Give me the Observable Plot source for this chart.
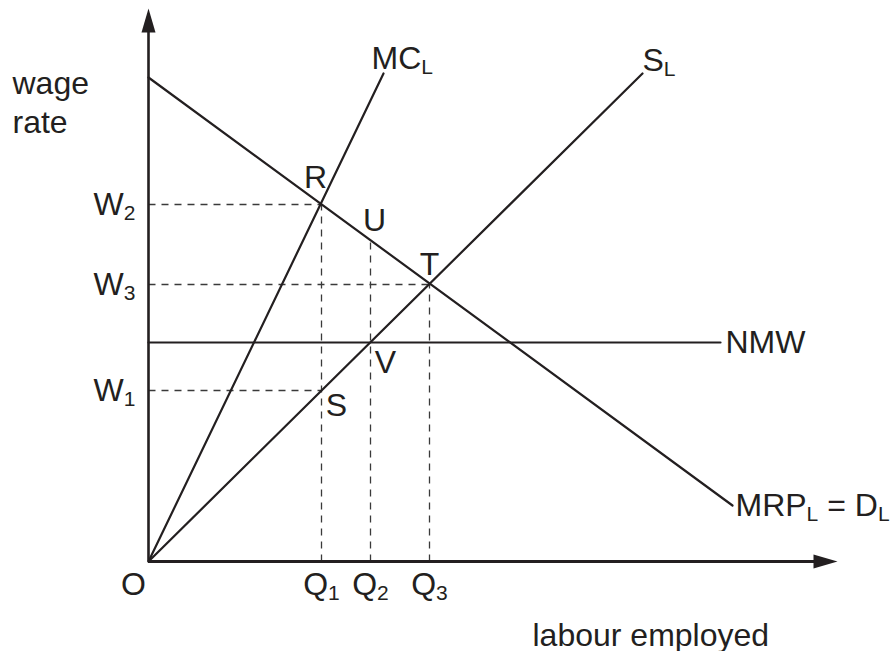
<!DOCTYPE html>
<html><head><meta charset="utf-8">
<script src="https://cdn.jsdelivr.net/npm/d3@7"></script>
<script src="https://cdn.jsdelivr.net/npm/@observablehq/plot@0.6"></script>
<style>body{margin:0;background:#fff;} svg{display:block;}</style>
</head><body><div id="chart"></div>
<script>
// ---- data (chart units: labour employed on x, wage rate on y) ----
const qLabels = ["Q_{1}", "Q_{2}", "Q_{3}"];
const qValues = [17.3, 22.2, 28.1];
const wLabels = ["W_{2}", "W_{3}", "W_{1}"];
const wValues = [35.7, 27.7, 17.1];
const nmwValue = 21.9;
const mrpLine = [[0, 48.4], [58.4, 5.6]];   // MRP_L = D_L
const mcLine = [[0, 0], [23.5, 48.8]];      // MC_L
const sLine = [[0, 0], [49.4, 48.8]];       // S_L
const nmwLine = [[0, nmwValue], [57.2, nmwValue]];
const pointNames = ["R", "U", "T", "V", "S"];
const pointQ = [17.3, 22.2, 28.1, 22.2, 17.3];
const pointW = [35.7, 32.0, 27.7, 21.9, 17.1];
const curveNames = ["MC_{L}", "S_{L}", "NMW", "MRP_{L} = D_{L}"];
const axisMax = {x: 68.9, y: 55.3};

// ---- derived tables ----
const ink = "#231f20";
const dashInk = "#3a3a3a";
const FS = 32;
const qTable = qLabels.map((label, i) => ({label, q: qValues[i]}));
const wTable = wLabels.map((label, i) => ({label, w: wValues[i]}));
const pts = pointNames.map((name, i) => ({name, q: pointQ[i], w: pointW[i]}));
const P = Object.fromEntries(pts.map(d => [d.name, d]));
const hDash = [P.R, P.T, P.S];           // horizontal dashes to the wage axis
const vDash = [P.R, P.U, P.T];           // vertical dashes to the quantity axis
const curveEnds = [mcLine[1], sLine[1], nmwLine[1], mrpLine[1]]
  .map((e, i) => ({name: curveNames[i], q: e[0], w: e[1]}));

// arrow heads built from the axis extents (24px long, 14px wide at 10px/unit)
const hl = 2.4, hw = 0.7;
const heads = [
  {id: "y", q: -hw, w: axisMax.y - hl}, {id: "y", q: 0, w: axisMax.y}, {id: "y", q: hw, w: axisMax.y - hl},
  {id: "x", q: axisMax.x - hl, w: hw}, {id: "x", q: axisMax.x, w: 0}, {id: "x", q: axisMax.x - hl, w: -hw}
];

const line = (data, opts = {}) => Plot.line(data, {x: d => d[0], y: d => d[1], stroke: ink, strokeWidth: 2.2, ...opts});
const label = (data, opts) => Plot.text(data, {fill: ink, fontSize: FS, ...opts});

const curveStyle = {
  "MC_{L}": {textAnchor: "start", lineAnchor: "bottom", dx: -12, dy: -5},
  "S_{L}": {textAnchor: "start", lineAnchor: "bottom", dx: 0, dy: -3},
  "NMW": {textAnchor: "start", lineAnchor: "middle", dx: 5, dy: 0},
  "MRP_{L} = D_{L}": {textAnchor: "start", lineAnchor: "middle", dx: 3, dy: 0}
};
const pointStyle = {
  R: {lineAnchor: "bottom", dx: -6, dy: -17},
  U: {lineAnchor: "bottom", dx: 4, dy: -11},
  T: {lineAnchor: "bottom", dx: 0, dy: -10},
  V: {lineAnchor: "top", dx: 15, dy: 8},
  S: {lineAnchor: "top", dx: 15, dy: 3}
};

const chart = Plot.plot({
  width: 890,
  height: 651,
  margin: 0,
  x: {domain: [-14.8, 74.2], axis: null},
  y: {domain: [-9, 56.1], axis: null},
  style: {fontFamily: "'Liberation Sans', Arial, sans-serif", background: "#fff", color: ink},
  marks: [
    // dashed guides
    Plot.link(hDash, {x1: 0, y1: "w", x2: "q", y2: "w", stroke: dashInk, strokeWidth: 1.3, strokeDasharray: "7,6"}),
    Plot.link(vDash, {x1: "q", y1: 0, x2: "q", y2: "w", stroke: dashInk, strokeWidth: 1.3, strokeDasharray: "7,6"}),
    // curves
    line(mrpLine),
    line(mcLine),
    line(sLine),
    line(nmwLine),
    // axes
    Plot.ruleX([0], {y1: 0, y2: axisMax.y - 2, stroke: ink, strokeWidth: 2.6}),
    Plot.ruleY([0], {x1: 0, x2: axisMax.x - 2, stroke: ink, strokeWidth: 2.8}),
    Plot.line(heads, {x: "q", y: "w", z: "id", fill: ink, stroke: "none"}),
    // axis labels
    label(wTable, {x: 0, y: "w", text: "label", textAnchor: "end", lineAnchor: "middle", dx: -13}),
    label(qTable, {x: "q", y: 0, text: "label", textAnchor: "middle", lineAnchor: "top", dy: 11}),
    label(["O"], {x: 0, y: 0, text: d => d, textAnchor: "middle", lineAnchor: "top", dx: -15, dy: 11}),
    label(["wage\nrate"], {frameAnchor: "top-left", text: d => d, textAnchor: "start", lineAnchor: "top", lineHeight: 1.22, dx: 12, dy: 65.3}),
    label(["labour employed"], {frameAnchor: "bottom-left", text: d => d, textAnchor: "start", lineAnchor: "bottom", dx: 532, dy: -6}),
    // curve labels
    ...curveEnds.map(d => label([d], {x: "q", y: "w", text: "name", ...curveStyle[d.name]})),
    // point labels
    ...pts.map(d => label([d], {x: "q", y: "w", text: "name", textAnchor: "middle", ...pointStyle[d.name]}))
  ]
});

// turn "_{..}" markup into real subscripts
const NS = "http://www.w3.org/2000/svg";
chart.querySelectorAll("text").forEach(t => {
  const s = t.textContent;
  if (!s.includes("_{") || t.querySelector("tspan")) return;
  t.textContent = "";
  let down = false;
  for (const p of s.split(/(_\{[^}]*\})/)) {
    if (!p) continue;
    const ts = document.createElementNS(NS, "tspan");
    if (p.startsWith("_{")) {
      ts.textContent = p.slice(2, -1);
      ts.setAttribute("font-size", "21");
      if (!down) { ts.setAttribute("dy", "5"); down = true; }
    } else {
      ts.textContent = p;
      if (down) { ts.setAttribute("dy", "-5"); down = false; }
    }
    t.appendChild(ts);
  }
});

document.getElementById("chart").appendChild(chart);
</script>
</body></html>
